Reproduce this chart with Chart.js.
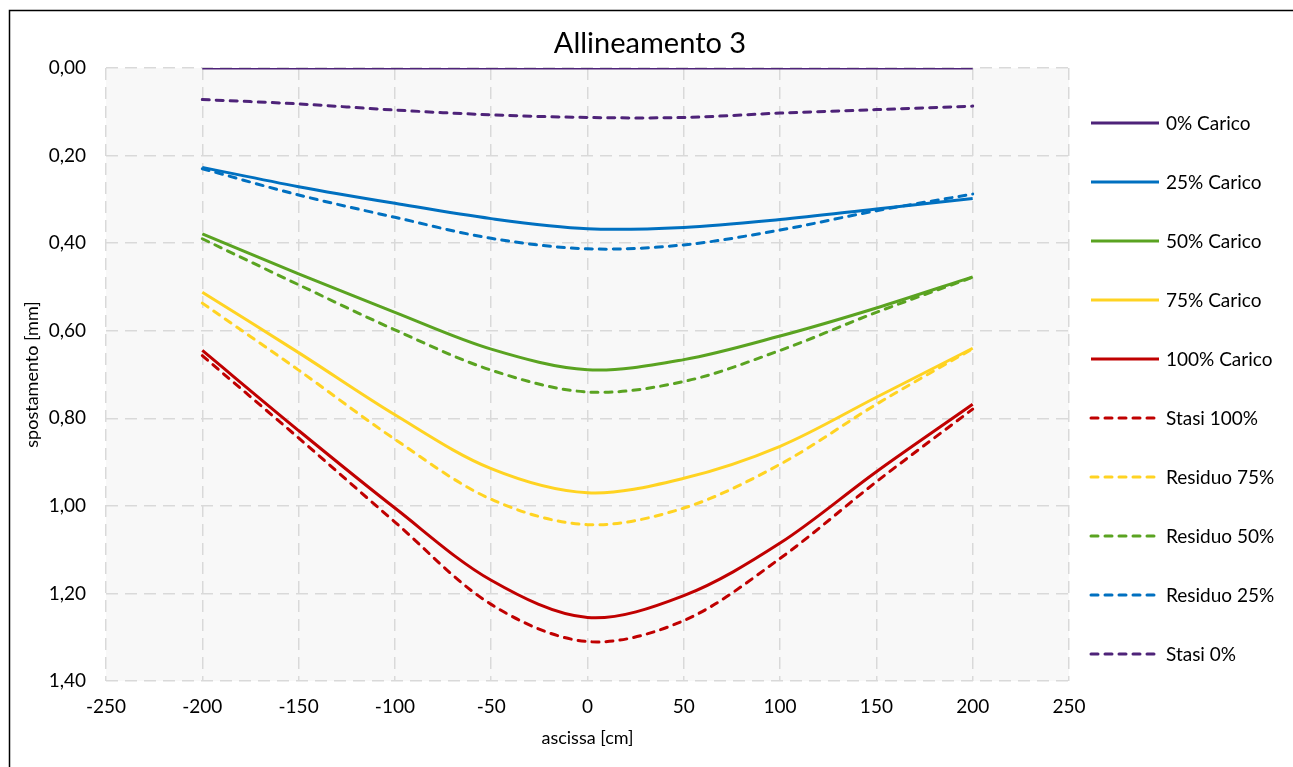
<!DOCTYPE html>
<html lang="it">
<head>
<meta charset="UTF-8">
<script src="https://cdn.jsdelivr.net/npm/chart.js@4/dist/chart.umd.min.js"></script>
<title>Allineamento 3</title>
<style>
  html, body { margin: 0; padding: 0; background: #fff; }
</style>
</head>
<body>
<canvas id="grafico" width="1293" height="767"></canvas>
<script>
// ascisse delle letture [cm]
var ascissa = [-200, -150, -100, -50, 0, 50, 100, 150, 200];

// spostamenti [mm]
var carico0   = [0.000, 0.000, 0.000, 0.000, 0.000, 0.000, 0.000, 0.000, 0.000];
var carico25  = [0.227, 0.271, 0.309, 0.344, 0.367, 0.364, 0.346, 0.322, 0.298];
var carico50  = [0.379, 0.470, 0.558, 0.642, 0.689, 0.666, 0.612, 0.548, 0.477];
var carico75  = [0.512, 0.650, 0.792, 0.915, 0.970, 0.937, 0.864, 0.752, 0.640];
var carico100 = [0.645, 0.828, 1.005, 1.170, 1.255, 1.205, 1.085, 0.922, 0.768];
var stasi100  = [0.657, 0.845, 1.037, 1.225, 1.310, 1.262, 1.120, 0.945, 0.779];
var residuo75 = [0.537, 0.690, 0.848, 0.985, 1.043, 1.005, 0.905, 0.768, 0.641];
var residuo50 = [0.390, 0.495, 0.598, 0.690, 0.740, 0.716, 0.645, 0.558, 0.478];
var residuo25 = [0.230, 0.290, 0.341, 0.389, 0.413, 0.404, 0.370, 0.326, 0.288];
var stasi0    = [0.072, 0.082, 0.096, 0.107, 0.113, 0.113, 0.103, 0.095, 0.087];

var titolo = 'Allineamento 3';
var viola = '#4e2379', blu = '#0070c0', verde = '#5aa321', giallo = '#ffd322', rosso = '#c00000';
var tratteggio = [7, 7];

// trasforma un array di valori in punti {x, y}
function punti(valori) {
    return valori.map(function(v, i) { return {x: ascissa[i], y: v}; });
}

function serie(label, valori, colore, dash) {
    return {
        label: label,
        data: punti(valori),
        borderColor: colore,
        backgroundColor: colore,
        borderWidth: 3,
        borderDash: dash || [],
        borderCapStyle: dash ? 'round' : 'butt',
        pointRadius: 0,
        tension: 0.33,
        fill: false
    };
}

var datasets = [
    serie('0% Carico', carico0, viola),
    serie('25% Carico', carico25, blu),
    serie('50% Carico', carico50, verde),
    serie('75% Carico', carico75, giallo),
    serie('100% Carico', carico100, rosso),
    serie('Stasi 100%', stasi100, rosso, tratteggio),
    serie('Residuo 75%', residuo75, giallo, tratteggio),
    serie('Residuo 50%', residuo50, verde, tratteggio),
    serie('Residuo 25%', residuo25, blu, tratteggio),
    serie('Stasi 0%', stasi0, viola, tratteggio)
];

// sfondo dell'area, titolo, legenda a destra e bordo esterno
var extra = {
    id: 'extra',
    beforeDraw: function(chart) {
        var a = chart.chartArea, ctx = chart.ctx;
        ctx.save();
        ctx.fillStyle = '#f8f8f8';
        ctx.fillRect(a.left, a.top, a.right - a.left, a.bottom - a.top);
        ctx.restore();
    },
    afterDraw: function(chart) {
        var ctx = chart.ctx;
        ctx.save();
        ctx.fillStyle = '#000';
        ctx.textBaseline = 'middle';
        ctx.textAlign = 'center';
        ctx.font = '29px Lato';
        ctx.fillText(titolo, 650, 44);

        ctx.textAlign = 'left';
        ctx.font = '19px Lato';
        chart.data.datasets.forEach(function(ds, i) {
            var y = 123 + i * 59;
            ctx.strokeStyle = ds.borderColor;
            ctx.lineWidth = 3;
            ctx.lineCap = ds.borderCapStyle;
            ctx.setLineDash(ds.borderDash);
            ctx.beginPath();
            ctx.moveTo(1091, y);
            ctx.lineTo(1159, y);
            ctx.stroke();
            ctx.setLineDash([]);
            ctx.fillText(ds.label, 1166, y + 1);
        });

        // bordo esterno (destra e sotto fuori dall'immagine)
        ctx.strokeStyle = '#000';
        ctx.lineWidth = 1.5;
        ctx.strokeRect(9.5, 10.5, 1300, 770);
        ctx.restore();
    }
};

var griglia = {color: '#d9d9d9', lineWidth: 1.5, drawTicks: false};
var bordo = {display: false, dash: [12, 7]};

new Chart('grafico', {
    type: 'line',
    data: {datasets: datasets},
    options: {
        responsive: false,
        animation: false,
        devicePixelRatio: 1,
        layout: {padding: {top: 68, right: 224, bottom: 0, left: 0}},
        plugins: {
            legend: {display: false},
            title: {display: false},
            tooltip: {enabled: false}
        },
        scales: {
            x: {
                type: 'linear',
                min: -250,
                max: 250,
                grid: griglia,
                border: bordo,
                ticks: {stepSize: 50, padding: 14, color: '#000', font: {family: 'Lato', size: 19}},
                title: {display: true, text: 'ascissa [cm]', color: '#000', font: {family: 'Lato', size: 18}, padding: {top: 0, bottom: 18}},
                afterFit: function(scale) { scale.height = 86; }
            },
            y: {
                reverse: true,
                min: 0,
                max: 1.4,
                grid: griglia,
                border: bordo,
                ticks: {
                    stepSize: 0.2,
                    padding: 20,
                    color: '#000',
                    font: {family: 'Lato', size: 19},
                    callback: function(v) { return v.toFixed(2).replace('.', ','); }
                },
                title: {display: true, text: 'spostamento [mm]', color: '#000', font: {family: 'Lato', size: 18}, padding: {top: 21, bottom: 0}},
                afterFit: function(scale) { scale.width = 106; }
            }
        }
    },
    plugins: [extra]
});
</script>
</body>
</html>
